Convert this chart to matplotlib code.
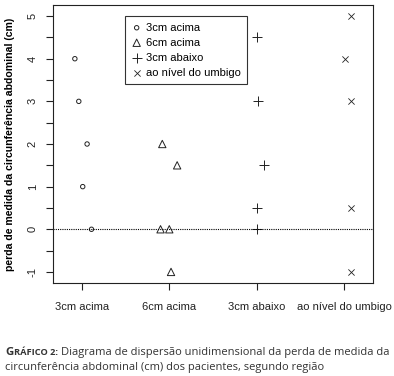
import matplotlib
matplotlib.use("Agg")
import matplotlib.pyplot as plt
import numpy as np

plt.rcParams['font.family'] = ['Liberation Sans', 'DejaVu Sans']

categorias = ["3cm acima", "6cm acima", "3cm abaixo", "ao nível do umbigo"]

# posições x já com o "jitter"
x_3acima = [0.92, 0.965, 1.06, 1.01, 1.11]
y_3acima = [4, 3, 2, 1, 0]
x_6acima = [1.92, 2.09, 1.90, 2.00, 2.02]
y_6acima = [2, 1.5, 0, 0, -1]
x_3abaixo = [3.00, 3.02, 3.08, 3.00, 3.00]
y_3abaixo = [4.5, 3, 1.5, 0.5, 0]
x_umbigo = [4.08, 4.01, 4.08, 4.08, 4.08]
y_umbigo = [5, 4, 3, 0.5, -1]

fig = plt.figure(figsize=(3.94, 3.76), dpi=100)
ax = fig.add_axes([53/394, 1-283/376, 320/394, 278/376])

cor = "#222222"
ax.scatter(x_3acima, y_3acima, marker="o", s=10, facecolors="none", edgecolors=cor, linewidths=0.7, label="3cm acima")
ax.scatter(x_6acima, y_6acima, marker="^", s=28, facecolors="none", edgecolors=cor, linewidths=0.7, label="6cm acima")
ax.scatter(x_3abaixo, y_3abaixo, marker="+", s=45, color=cor, linewidths=0.7, label="3cm abaixo")
ax.scatter(x_umbigo, y_umbigo, marker="x", s=20, color=cor, linewidths=0.6, label="ao nível do umbigo")

ax.axhline(0, color="black", linestyle=(0, (1, 1)), linewidth=0.8)

ax.set_xlim(0.67, 4.33)
ax.set_ylim(-1.26, 5.26)
ax.set_xticks(range(1, 5))
ax.set_xticklabels(categorias, fontsize=8, color="#222222")
ax.set_yticks(np.arange(-1, 5.01, 0.5))
ax.set_yticklabels([str(int(v)) if v == int(v) else "" for v in np.arange(-1, 5.01, 0.5)],
                   fontsize=8, rotation=90, va="center", color="#222222")
ax.tick_params(axis="both", direction="out", length=5, width=0.8, colors="#222222")
ax.tick_params(axis="x", pad=9)
ax.tick_params(axis="y", pad=6)
for s in ax.spines.values():
    s.set_linewidth(0.8)
    s.set_color("#222222")

ax.set_ylabel("perda de medida da circunferência abdominal (cm)", fontsize=7.6,
              fontweight="bold", labelpad=9)

leg = ax.legend(loc="upper left", bbox_to_anchor=(72/320, 1 - 11/278), fontsize=8,
                frameon=True, fancybox=False, edgecolor="black", handletextpad=0.35,
                borderpad=0.6, labelspacing=0.45, handlelength=0.9, borderaxespad=0,
                scatterpoints=1)
leg.get_frame().set_linewidth(0.8)

# legenda do gráfico (versalete simulado)
fig.canvas.draw()
r = fig.canvas.get_renderer()
cap = "#333333"
y1 = 1 - 355/376
y2 = 1 - 370/376
t1 = fig.text(5/394, y1, "G", fontsize=8.2, family="Open Sans", fontweight="bold",
              va="baseline", color=cap)
bb = t1.get_window_extent(renderer=r)
t2 = fig.text(bb.x1/394 + 0.002, y1, "RÁFICO 2:", fontsize=6.7, family="Open Sans",
              fontweight="bold", va="baseline", color=cap)
bb2 = t2.get_window_extent(renderer=r)
fig.text(bb2.x1/394 + 0.008, y1,
         "Diagrama de dispersão unidimensional da perda de medida da",
         fontsize=8.0, family="Open Sans", va="baseline", color=cap)
fig.text(5/394, y2, "circunferência abdominal (cm) dos pacientes, segundo região",
         fontsize=8.0, family="Open Sans", va="baseline", color=cap)

fig.savefig("out.png", dpi=100)
